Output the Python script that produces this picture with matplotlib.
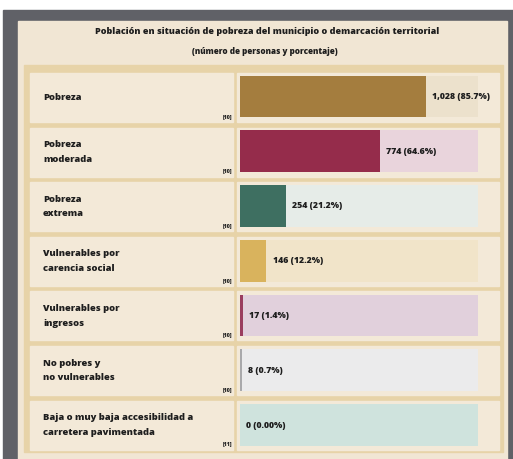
import matplotlib.pyplot as plt
from matplotlib.patches import Rectangle

# datos
categorias = ["Pobreza", "Pobreza\nmoderada", "Pobreza\nextrema",
              "Vulnerables por\ncarencia social", "Vulnerables por\ningresos",
              "No pobres y\nno vulnerables",
              "Baja o muy baja accesibilidad a\ncarretera pavimentada"]
personas = [1028, 774, 254, 146, 17, 8, 0]
porcentaje = [85.7, 64.6, 21.2, 12.2, 1.4, 0.7, 0.0]
etiquetas = ["1,028 (85.7%)", "774 (64.6%)", "254 (21.2%)", "146 (12.2%)",
             "17 (1.4%)", "8 (0.7%)", "0 (0.00%)"]
fuentes = ["[10]", "[10]", "[10]", "[10]", "[10]", "[10]", "[11]"]

colores = ["#a47d3e", "#952c4b", "#3e6f61", "#d9b35d", "#9a3d5e", "#a9a9ab", "#cfe3dd"]
fondos = ["#ece1cc", "#e9d4dc", "#e6ece8", "#f1e4c9", "#e1d0dc", "#ebebec", "#cfe3dd"]

plt.rcParams['font.family'] = ['Open Sans', 'DejaVu Sans']

W, H = 513, 459
fig = plt.figure(figsize=(W / 100, H / 100), dpi=100)
fig.patch.set_facecolor("white")

bg = fig.add_axes([0, 0, 1, 1])
bg.set_xlim(0, W)
bg.set_ylim(H, 0)
bg.axis("off")

# marco
bg.add_patch(Rectangle((3, 10), W - 3, H - 10, color="#606167"))
bg.add_patch(Rectangle((18, 21), 489, H - 21, color="#f1e6d4"))
bg.add_patch(Rectangle((24, 65), 479, 387, color="#e7d3a8"))

bg.text(267, 32, "Población en situación de pobreza del municipio o demarcación territorial",
        ha="center", va="center", fontsize=6.5, weight=800, color="#1e1e1e")
bg.text(265, 52, "(número de personas y porcentaje)",
        ha="center", va="center", fontsize=5.9, weight=800, color="#1e1e1e")

y0, paso = 97.5, 54.6
for i, cat in enumerate(categorias):
    yc = y0 + i * paso
    bg.add_patch(Rectangle((30, yc - 24.5), 203, 49, color="#f3e9d8"))
    bg.add_patch(Rectangle((237, yc - 24.5), 262, 49, color="#f3e9d8"))
    bg.text(43, yc, cat, ha="left", va="center", fontsize=6.75, weight=800,
            color="#1e1e1e", linespacing=1.8)
    bg.text(232, yc + 19, fuentes[i], ha="right", va="center", fontsize=3.8,
            weight=800, color="#1e1e1e")

# barras
ax = fig.add_axes([240 / W, (H - 452.4) / H, 257 / W, 383.3 / H])
ax.set_xlim(0, 257 / 217 * 100)
ax.set_ylim(len(categorias) - 0.5, -0.5)
ax.axis("off")
ax.patch.set_alpha(0)

y = range(len(categorias))
ax.barh(y, [238 / 217 * 100] * len(categorias), height=0.76, color=fondos)
ax.barh(y, porcentaje, height=0.76, color=colores)
for i, p in enumerate(porcentaje):
    ax.text(p + 2.9, i, etiquetas[i], ha="left", va="center", fontsize=6.3,
            weight=800, color="#1e1e1e")

fig.savefig("out.png", dpi=100)
